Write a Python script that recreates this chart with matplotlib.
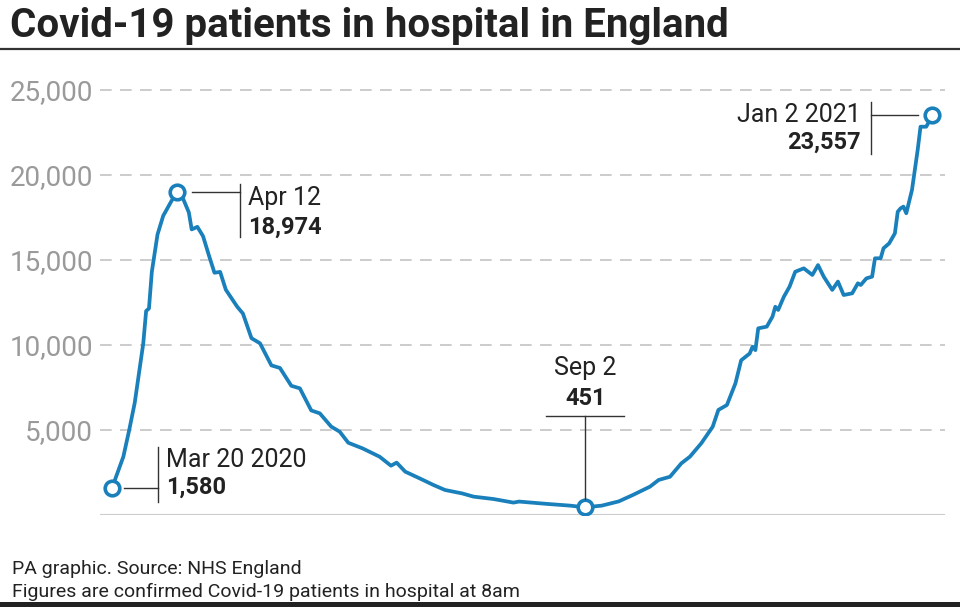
import matplotlib
matplotlib.use("Agg")
import matplotlib.pyplot as plt
from matplotlib.lines import Line2D
import numpy as np

# ---------------- data ----------------
start_date = np.datetime64("2020-03-20")
day_offsets = [0, 4, 6, 8, 11, 12, 13, 14, 16, 18, 21, 23, 25, 27, 28, 30, 32, 34, 36, 38,
               40, 44, 46, 49, 52, 56, 59, 63, 66, 70, 73, 77, 80, 83, 88, 94, 98, 100, 103,
               108, 113, 117, 123, 127, 134, 141, 143, 153, 161, 166, 172, 178, 183, 189,
               192, 196, 200, 203, 207, 211, 213, 216, 219, 221, 224, 225, 226, 227, 230,
               232, 233, 234, 236, 238, 240, 243, 246, 248, 250, 253, 255, 257, 260, 262,
               263, 265, 267, 268, 270, 271, 273, 275, 276, 277, 278, 279, 281, 283, 284,
               286, 287, 288]
patients = [1580, 3430, 4950, 6600, 10100, 12000, 12150, 14300, 16500, 17600, 18500, 18974,
            18600, 17800, 16800, 16950, 16400, 15300, 14250, 14300, 13250, 12250, 11850,
            10400, 10100, 8800, 8650, 7600, 7450, 6150, 5980, 5200, 4900, 4250, 3920, 3430,
            2900, 3080, 2550, 2160, 1760, 1470, 1270, 1080, 940, 730, 790, 650, 550, 451,
            550, 800, 1180, 1670, 2060, 2250, 3040, 3430, 4220, 5190, 6180, 6470, 7750,
            9100, 9500, 9900, 9700, 10980, 11080, 11670, 12250, 12060, 12840, 13430, 14310,
            14510, 14120, 14700, 14020, 13240, 13730, 12940, 13040, 13630, 13530, 13920,
            14020, 15100, 15100, 15690, 15980, 16570, 17840, 18040, 18140, 17750, 19120,
            21470, 22840, 22840, 23140, 23557]
y_ticks = [5000, 10000, 15000, 20000, 25000]
y_tick_labels = ["5,000", "10,000", "15,000", "20,000", "25,000"]

# annotated points: (day offset, date label, value label)
annotations = [
    (0, "Mar 20 2020", "1,580"),
    (23, "Apr 12", "18,974"),
    (166, "Sep 2", "451"),
    (288, "Jan 2 2021", "23,557"),
]

title = "Covid-19 patients in hospital in England"
footer = ["PA graphic. Source: NHS England",
          "Figures are confirmed Covid-19 patients in hospital at 8am"]

# ---------------- style ----------------
W, H = 960, 607
DPI = 100
BLUE = "#1a80bb"
DARK = "#222222"
GREY = "#9a9a9a"
FONT = ["Roboto", "DejaVu Sans"]

plt.rcParams["font.family"] = FONT

fig = plt.figure(figsize=(W / DPI, H / DPI), dpi=DPI)
fig.patch.set_facecolor("white")

ax = fig.add_axes([100 / W, 92 / H, 845 / W, 442 / H])
ax.set_xlim(-4.2, 292.6)
ax.set_ylim(0, 26000)
for s in ax.spines.values():
    s.set_visible(False)
ax.set_xticks([])
ax.set_yticks(y_ticks)
ax.set_yticklabels(y_tick_labels, color=GREY, fontsize=20, fontweight="normal")
ax.tick_params(axis="y", length=0, pad=5)

for t in y_ticks:
    ax.axhline(t, color="#c4c4c4", lw=1.2, dashes=(7, 5), zorder=1)
ax.axhline(0, color="#cccccc", lw=1.5, zorder=1)

x = np.array(day_offsets)
y = np.array(patients)
ax.plot(x, y, color=BLUE, lw=2.7, solid_joinstyle="round", zorder=3)

# markers at annotated points
idx = {d: v for d, v in zip(day_offsets, patients)}
for d, _, _ in annotations:
    ax.plot([d], [idx[d]], "o", ms=10.5, mfc="white", mec=BLUE, mew=2.6, zorder=5)

fig.canvas.draw()


def px(d):
    """display pixel coords of an annotated point (origin bottom-left)"""
    return ax.transData.transform((d, idx[d]))


def seg(x0, y0, x1, y1):
    fig.add_artist(Line2D([x0, x1], [y0, y1], transform=None, color="#333333",
                          lw=1.0, zorder=6))


def txt(xp, yp, s, ha="left", bold=False):
    fig.text(xp, yp, s, transform=None, ha=ha, va="baseline",
             fontsize=17 if bold else 18,
             color=DARK, fontweight="bold" if bold else "normal")


# Mar 20
d = annotations[0]
X, Y = px(d[0])
seg(X + 12, Y, X + 46, Y)
seg(X + 46, Y + 41.5, X + 46, Y - 13.5)
txt(X + 54, Y + 21.5, d[1])
txt(X + 54, Y - 5.5, d[2], bold=True)

# Apr 12
d = annotations[1]
X, Y = px(d[0])
seg(X + 15, Y, X + 63, Y)
seg(X + 63, Y + 8.3, X + 63, Y - 45)
txt(X + 71, Y - 13, d[1])
txt(X + 71, Y - 41.7, d[2], bold=True)

# Sep 2
d = annotations[2]
X, Y = px(d[0])
seg(X, Y + 8, X, Y + 91.7)
seg(X - 38.3, Y + 91.7, X + 39, Y + 91.7)
txt(X + 1, Y + 132.7, d[1], ha="center")
txt(X + 1, Y + 102.7, d[2], ha="center", bold=True)

# Jan 2
d = annotations[3]
X, Y = px(d[0])
seg(X - 14, Y, X - 60.7, Y)
seg(X - 60.7, Y + 12.7, X - 60.7, Y - 39)
txt(X - 70.7, Y - 7.3, d[1], ha="right")
txt(X - 70.7, Y - 34.7, d[2], ha="right", bold=True)

# title, fitted to reference width
tt = fig.text(10 / W, 1 - 37 / H, title, ha="left", va="baseline", fontsize=29,
              fontweight="bold", color=DARK)
fig.canvas.draw()
wpx = tt.get_window_extent().width
tt.set_fontsize(29 * 718 / wpx)

fig.add_artist(Line2D([0, 1], [1 - 49 / H, 1 - 49 / H], transform=fig.transFigure,
                      color="#333333", lw=1.6))
fig.add_artist(plt.Rectangle((0, 0), 1, 5 / H, transform=fig.transFigure,
                             color=DARK, lw=0))

fig.text(12 / W, 1 - 574 / H, footer[0], ha="left", va="baseline", fontsize=14,
         fontweight="normal", color=DARK)
fig.text(12 / W, 1 - 596.7 / H, footer[1], ha="left", va="baseline", fontsize=14,
         fontweight="normal", color=DARK)

fig.savefig("out.png", dpi=DPI, facecolor="white")
